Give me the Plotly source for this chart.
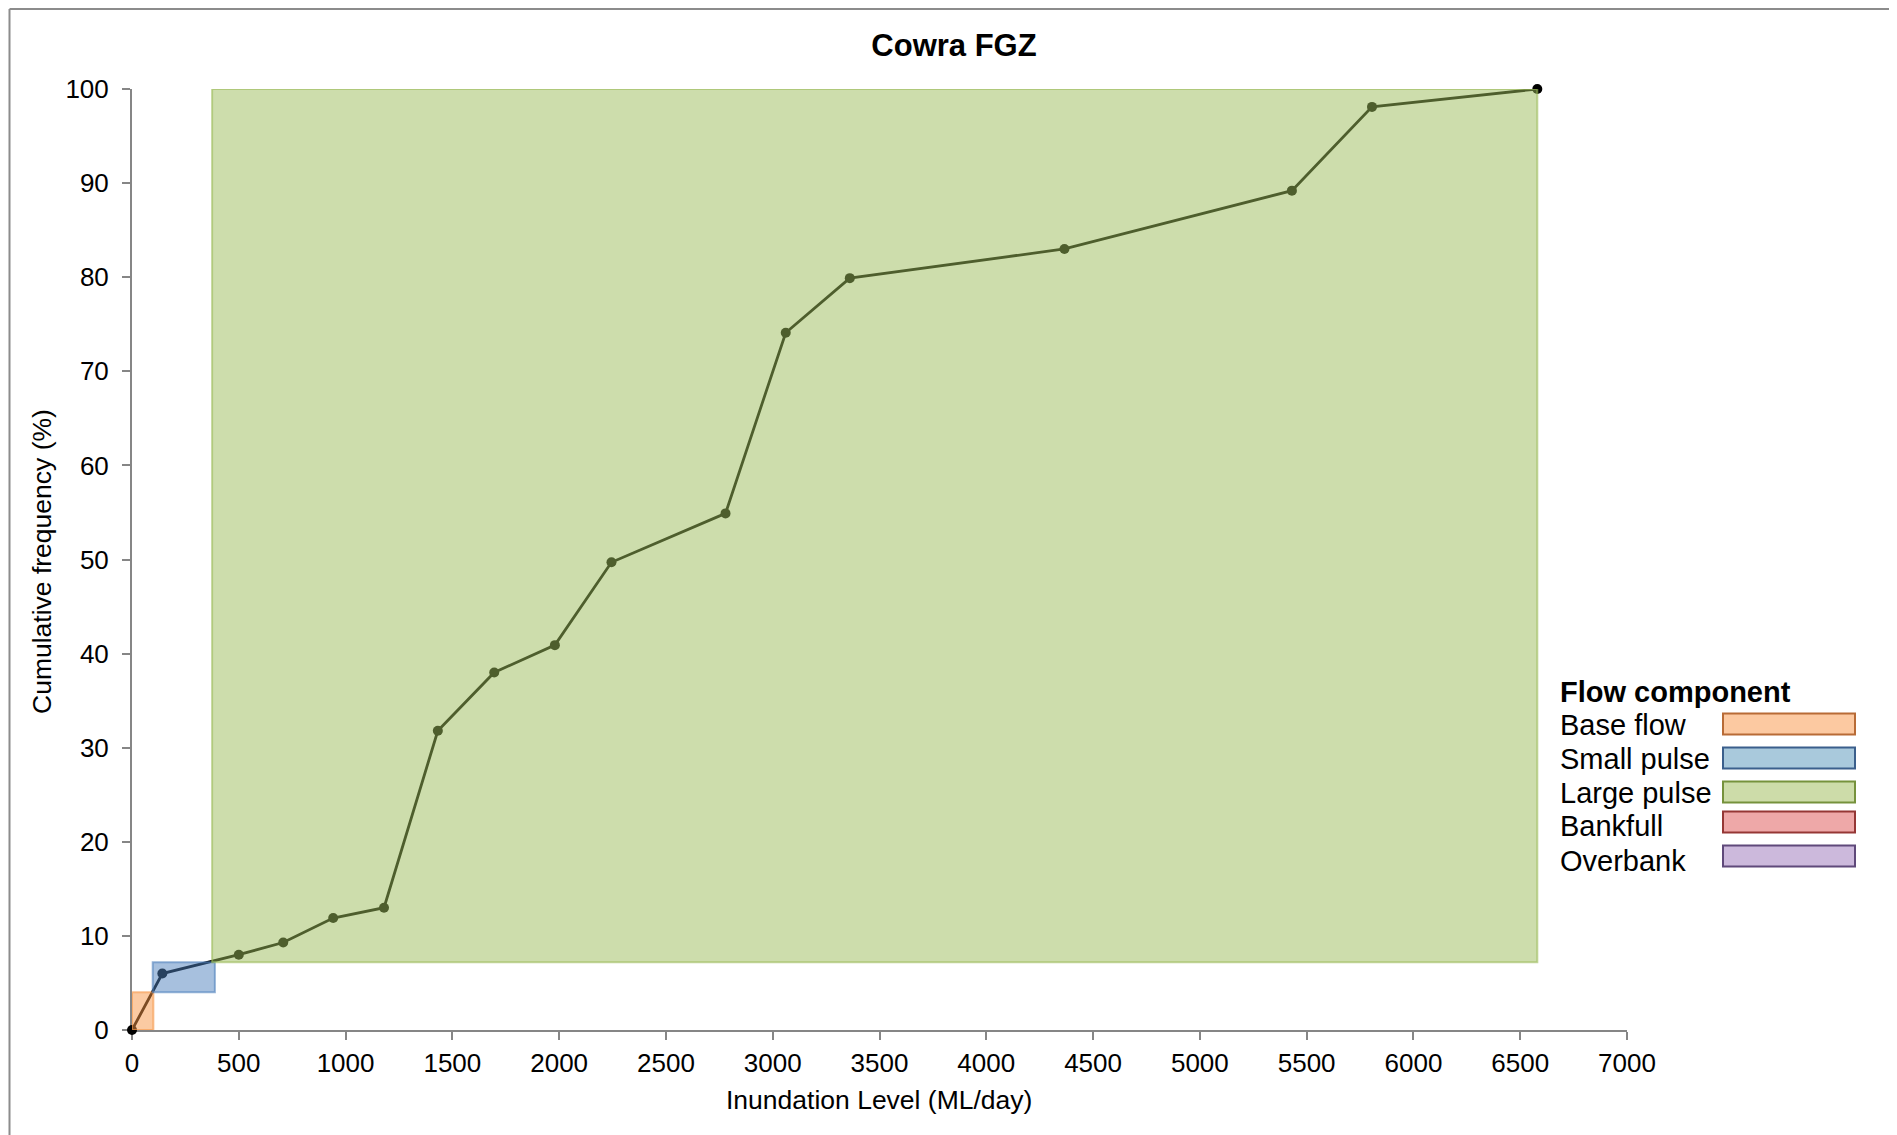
import plotly.graph_objects as go

# ---- data ----
inundation = [0, 142, 500, 708, 942, 1180, 1432, 1696, 1980, 2245, 2779, 3061, 3361, 4366, 5431, 5806, 6580]
cum_freq = [0, 6.0, 8.0, 9.3, 11.9, 13.0, 31.8, 38.0, 40.9, 49.7, 54.9, 74.1, 79.9, 83.0, 89.2, 98.1, 100]

# flow component boxes drawn on the chart (data ranges)
box_names = ["Base flow", "Small pulse", "Large pulse"]
box_x0 = [0, 97, 375]
box_x1 = [100, 388, 6580]
box_y0 = [0, 4.0, 7.2]
box_y1 = [4.0, 7.2, 100]
box_rgb = ["247,150,70", "79,129,189", "155,187,89"]

legend_title = "Flow component"
legend_names = ["Base flow", "Small pulse", "Large pulse", "Bankfull", "Overbank"]
legend_fill = ["#fcc9a1", "#a9c9dc", "#cddca9", "#eea8a8", "#ccb9dc"]
legend_edge = ["#b86b36", "#3b5f8c", "#76923c", "#953735", "#5f497a"]

x_ticks = list(range(0, 7001, 500))
y_ticks = list(range(0, 101, 10))

W, H = 1897, 1135
OFF = 8  # page body margin
PX0, PX1 = 132, 1627   # plot area in page pixels (x)
PY0, PY1 = 89, 1030    # plot area in page pixels (y)
L = PX0 - OFF
T = PY0 - OFF
R = W - L - (PX1 - PX0)
B = H - T - (PY1 - PY0)
FONT = "Arial, Liberation Sans, sans-serif"


def px_x(p):
    return (p - PX0) / (PX1 - PX0)


def px_y(p):
    return (PY1 - p) / (PY1 - PY0)


fig = go.Figure()
fig.add_trace(go.Scatter(
    x=inundation, y=cum_freq, mode="lines+markers",
    line=dict(color="#000000", width=2.8),
    marker=dict(color="#000000", size=10),
    showlegend=False, cliponaxis=False,
))

shapes = []
for x0, x1, y0, y1, rgb in zip(box_x0, box_x1, box_y0, box_y1, box_rgb):
    shapes.append(dict(
        type="rect", xref="x", yref="y", x0=x0, x1=x1, y0=y0, y1=y1,
        fillcolor=f"rgba({rgb},0.5)", line=dict(color=f"rgba({rgb},0.6)", width=2),
        layer="above",
    ))

# outer frame (chart area border)
shapes.append(dict(type="line", xref="paper", yref="paper",
                   x0=px_x(9.5), x1=px_x(9.5), y0=px_y(9), y1=px_y(1200),
                   line=dict(color="#8c8c8c", width=2)))
shapes.append(dict(type="line", xref="paper", yref="paper",
                   x0=px_x(9.5), x1=px_x(2000), y0=px_y(9), y1=px_y(9),
                   line=dict(color="#8c8c8c", width=2)))

annotations = []
# legend
annotations.append(dict(text=f"<b>{legend_title}</b>", xref="paper", yref="paper",
                        x=px_x(1558), y=px_y(692), xanchor="left", yanchor="middle",
                        showarrow=False, font=dict(family=FONT, size=29, color="#000")))
box_cy = [724, 758, 792, 822, 856]
text_cy = [725, 759, 793, 826, 861]
for name, fc, ec, cy, ty in zip(legend_names, legend_fill, legend_edge, box_cy, text_cy):
    annotations.append(dict(text=name, xref="paper", yref="paper",
                            x=px_x(1558), y=px_y(ty), xanchor="left", yanchor="middle",
                            showarrow=False, font=dict(family=FONT, size=29, color="#000")))
    shapes.append(dict(type="rect", xref="paper", yref="paper",
                       x0=px_x(1723), x1=px_x(1855), y0=px_y(cy - 10.5), y1=px_y(cy + 10.5),
                       fillcolor=fc, line=dict(color=ec, width=2)))

# axis titles
annotations.append(dict(text="Inundation Level (ML/day)", xref="paper", yref="paper",
                        x=px_x(879), y=px_y(1100), xanchor="center", yanchor="middle",
                        showarrow=False, font=dict(family=FONT, size=26.5, color="#000")))
annotations.append(dict(text="Cumulative frequency (%)", xref="paper", yref="paper",
                        x=px_x(42), y=px_y(562), xanchor="center", yanchor="middle",
                        textangle=-90,
                        showarrow=False, font=dict(family=FONT, size=26.5, color="#000")))

fig.update_layout(
    width=W, height=H,
    margin=dict(l=L, r=R, t=T, b=B, pad=0),
    paper_bgcolor="white", plot_bgcolor="white",
    title=dict(text="<b>Cowra FGZ</b>", xref="container", x=(954 - OFF) / W, xanchor="center",
               yref="container", y=1 - (45 - OFF) / H, yanchor="middle",
               font=dict(family=FONT, size=31, color="#000")),
    shapes=shapes, annotations=annotations,
    font=dict(family=FONT, color="#000"),
    xaxis=dict(range=[0, 7000], tickvals=x_ticks, ticktext=[str(v) for v in x_ticks],
               showgrid=False, zeroline=False, showline=True, linecolor="#868686", linewidth=2,
               ticks="outside", ticklen=8, tickwidth=2, tickcolor="#868686",
               tickfont=dict(family=FONT, size=26, color="#000"), layer="below traces",
               ticklabelstandoff=1),
    yaxis=dict(range=[0, 100], tickvals=y_ticks, ticktext=[str(v) for v in y_ticks],
               showgrid=False, zeroline=False, showline=True, linecolor="#868686", linewidth=2,
               ticks="outside", ticklen=8, tickwidth=2, tickcolor="#868686",
               tickfont=dict(family=FONT, size=26, color="#000"), layer="below traces",
               ticklabelstandoff=8),
)

fig.write_html("out.html")
